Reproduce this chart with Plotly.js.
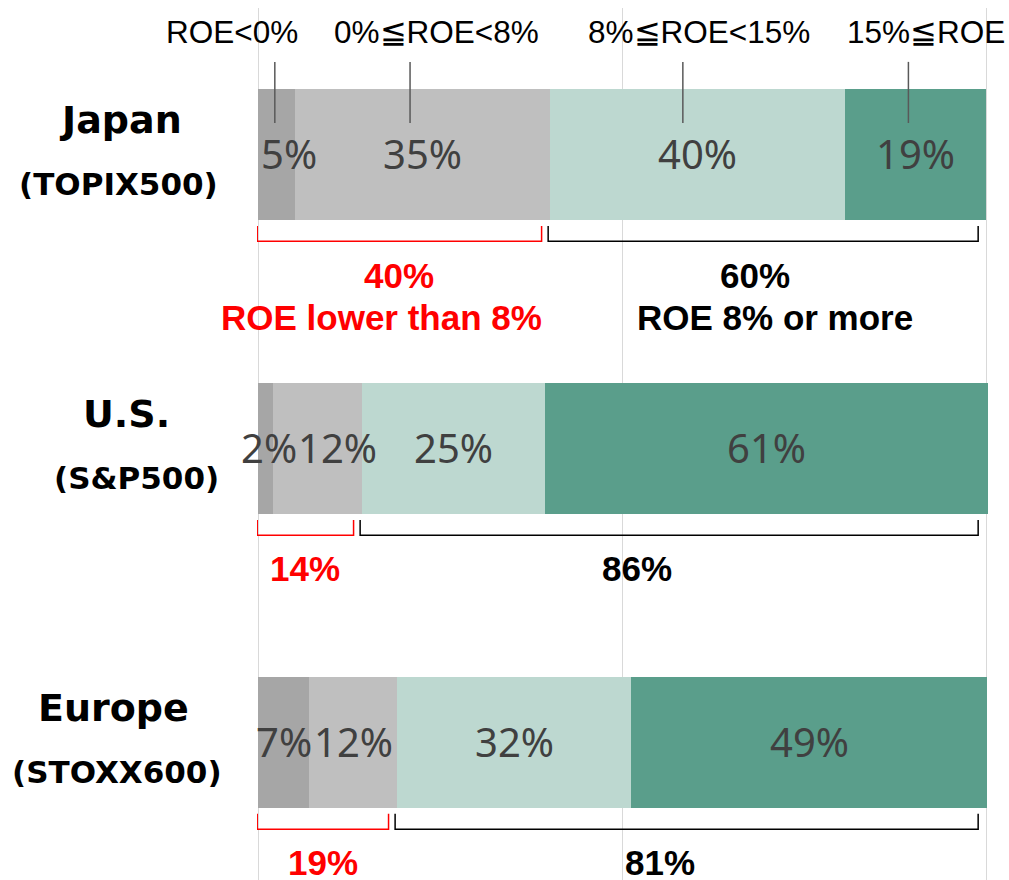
<!DOCTYPE html>
<html>
<head>
<meta charset="utf-8">
<script src="https://cdn.plot.ly/plotly-3.0.1.min.js"></script>
<style>
  body { margin: 0; background: #fff; }
  #chart { width: 1009px; height: 880px; }
</style>
</head>
<body>
<div id="chart"></div>
<script>
// share of companies by ROE band, %
var regions = ['Japan', 'U.S.', 'Europe'];
var indexNames = ['(TOPIX500)', '(S&P500)', '(STOXX600)'];
var bandNames = ['ROE<0%', '0%\u2266ROE<8%', '8%\u2266ROE<15%', '15%\u2266ROE'];
var roeNegative = [5.1, 2.1, 7.0];
var roeLow = [35.0, 12.2, 12.1];
var roeMid = [40.4, 25.0, 32.1];
var roeHigh = [19.4, 60.8, 48.8];
var lowCaption = 'ROE lower than 8%';
var highCaption = 'ROE 8% or more';

var bands = [roeNegative, roeLow, roeMid, roeHigh];
var colors = ['#a6a6a6', '#bfbfbf', '#bdd8d0', '#5a9e8b'];
var rows = [0, 1, 2];
var barWidth = 0.446;

var data = [];
var shapes = [];
var annotations = [];

// nudges (px) for labels that sit in narrow segments, keyed band-row
var nudge = {'0-0': 12, '0-1': 3, '1-1': 20};

var base = [0, 0, 0];
for (var b = 0; b < bands.length; b++) {
    data.push({
        type: 'bar',
        orientation: 'h',
        x: bands[b],
        y: rows,
        width: barWidth,
        name: bandNames[b],
        marker: {color: colors[b], line: {width: 0}},
        hoverinfo: 'skip'
    });
    for (var r = 0; r < rows.length; r++) {
        annotations.push({
            xref: 'x', yref: 'y',
            x: base[r] + bands[b][r] / 2, y: rows[r],
            xshift: nudge[b + '-' + r] || 0,
            yshift: 1,
            borderpad: 0,
            text: Math.round(bands[b][r]) + '%', showarrow: false,
            font: {family: 'Noto Sans', size: 40, color: '#404040'}
        });
        base[r] += bands[b][r];
    }
}

// legend labels on top, with leader lines into the Japan bar
var labelShift = [-43, 26, 16, 18];
var start = 0;
for (var b = 0; b < bands.length; b++) {
    var w = bands[b][0];
    var lx = start + 0.45 * w;
    shapes.push({
        type: 'line', xref: 'x', yref: 'y',
        x0: lx, x1: lx, y0: -0.315, y1: -0.107,
        line: {color: '#595959', width: 1.5}
    });
    annotations.push({
        xref: 'x', yref: 'y', x: lx, y: -0.417,
        xshift: labelShift[b],
        text: bandNames[b], showarrow: false,
        font: {family: 'Liberation Sans, Arial', size: 31.5, color: '#000'}
    });
    start += w;
}

// brackets and totals under each bar
var blackShift = [-8, -32, -27];
var nameShift = [2, 8, -5];
var indexShift = [0, 18, -2];
for (var r = 0; r < rows.length; r++) {
    var lowSum = roeNegative[r] + roeLow[r];
    var highSum = roeMid[r] + roeHigh[r];
    var yTop = r + barWidth / 2 + 0.02;
    var yBot = r + barWidth / 2 + 0.072;
    var redL = -0.12, redR = lowSum - 1.2;
    var blkL = lowSum - 0.3, blkR = 98.8;
    shapes.push({
        type: 'path', xref: 'x', yref: 'y',
        path: 'M' + redL + ',' + yTop + ' L' + redL + ',' + yBot + ' L' + redR + ',' + yBot + ' L' + redR + ',' + yTop,
        line: {color: '#ff0000', width: 1.5}
    });
    shapes.push({
        type: 'path', xref: 'x', yref: 'y',
        path: 'M' + blkL + ',' + yTop + ' L' + blkL + ',' + yBot + ' L' + blkR + ',' + yBot + ' L' + blkR + ',' + yTop,
        line: {color: '#000000', width: 1.5}
    });
    annotations.push({
        xref: 'x', yref: 'y', x: (redL + redR) / 2, y: r + 0.41,
        text: '<b>' + Math.round(lowSum) + '%</b>', showarrow: false,
        font: {family: 'Liberation Sans, Arial', size: 35, color: '#ff0000'}
    });
    annotations.push({
        xref: 'x', yref: 'y', x: (blkL + blkR) / 2, y: r + 0.41,
        xshift: blackShift[r],
        text: '<b>' + Math.round(highSum) + '%</b>', showarrow: false,
        font: {family: 'Liberation Sans, Arial', size: 35, color: '#000000'}
    });
    if (r === 0) {
        annotations.push({
            xref: 'x', yref: 'y', x: (redL + redR) / 2, y: r + 0.556,
            xshift: -18,
            text: '<b>' + lowCaption + '</b>', showarrow: false,
            font: {family: 'Liberation Sans, Arial', size: 35, color: '#ff0000'}
        });
        annotations.push({
            xref: 'x', yref: 'y', x: (blkL + blkR) / 2, y: r + 0.556,
            xshift: 12,
            text: '<b>' + highCaption + '</b>', showarrow: false,
            font: {family: 'Liberation Sans, Arial', size: 35, color: '#000000'}
        });
    }
    // region names on the left
    annotations.push({
        xref: 'paper', yref: 'y', x: -0.189, xanchor: 'center', y: r, yshift: 34,
        xshift: nameShift[r],
        text: '<b>' + regions[r] + '</b>', showarrow: false,
        font: {family: 'DejaVu Sans', size: 38, color: '#000'}
    });
    annotations.push({
        xref: 'paper', yref: 'y', x: -0.189, xanchor: 'center', y: r, yshift: -30,
        xshift: indexShift[r],
        text: '<b>' + indexNames[r] + '</b>', showarrow: false,
        font: {family: 'DejaVu Sans', size: 31, color: '#000'}
    });
}

var layout = {
    width: 1009,
    height: 880,
    margin: {l: 257, r: 21, t: 8, b: 0},
    paper_bgcolor: '#ffffff',
    plot_bgcolor: '#ffffff',
    barmode: 'stack',
    showlegend: false,
    xaxis: {
        range: [-0.15, 100.15],
        tickvals: [0, 50, 100],
        showticklabels: false,
        showgrid: true,
        gridcolor: '#d9d9d9',
        gridwidth: 1,
        zeroline: false,
        showline: false,
        fixedrange: true
    },
    yaxis: {
        range: [2.468, -0.4983],
        showticklabels: false,
        showgrid: false,
        zeroline: false,
        showline: false,
        fixedrange: true
    },
    shapes: shapes,
    annotations: annotations
};

Plotly.newPlot('chart', data, layout, {displayModeBar: false, staticPlot: true});
</script>
</body>
</html>
